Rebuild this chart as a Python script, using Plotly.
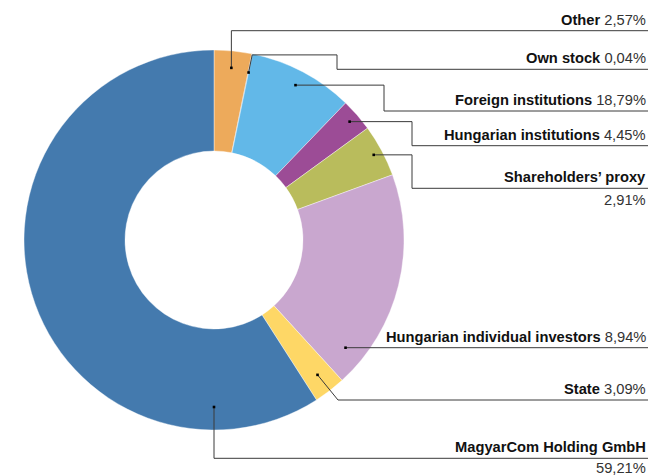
import math
import plotly.graph_objects as go

# ---- data ----
categories = ["Other", "Own stock", "Foreign institutions", "Hungarian institutions",
              "Shareholders’ proxy", "Hungarian individual investors", "State",
              "MagyarCom Holding GmbH"]
label_pct = ["2,57%", "0,04%", "18,79%", "4,45%", "2,91%", "8,94%", "3,09%", "59,21%"]
# slice sizes as drawn (percent of the ring)
slice_share = [3.2, 0.04, 8.94, 2.8, 4.45, 18.8, 2.7, 59.07]
colors = ["#EDAA5B", "#555555", "#62B8E8", "#9C4C96", "#B9BC5C", "#C9A7CF", "#FED766", "#447AAE"]

# ---- layout geometry (pixels) ----
W, H = 651, 476
CX, CY, R, R_IN = 214, 240, 190, 89
TEXT_RIGHT = 648
line_y = [30.7, 69.3, 111, 145.7, 188.3, 347.7, 400, 458.3]
anchor_r = [173, 171, 175, 180, 181, 170, 170, 167]

total = sum(slice_share)
starts, ends = [], []
acc = 0.0
for v in slice_share:
    starts.append(acc / total * 360)
    acc += v
    ends.append(acc / total * 360)


def polar(angle_deg, r):
    a = math.radians(angle_deg)
    return CX + r * math.sin(a), CY - r * math.cos(a)


fig = go.Figure()
fig.add_trace(go.Pie(
    labels=categories, values=slice_share, sort=False, direction="clockwise",
    rotation=0, hole=R_IN / R, textinfo="none", showlegend=False,
    marker=dict(colors=colors, line=dict(color="white", width=0.4)),
    domain=dict(x=[(CX - R) / W, (CX + R) / W], y=[(H - CY - R) / H, (H - CY + R) / H]),
))

# invisible pixel-space axes for leader lines
fig.add_trace(go.Scatter(x=[0, W], y=[0, H], mode="markers", marker=dict(opacity=0),
                         hoverinfo="skip", showlegend=False))

shapes = []
LC = "#3a3a3a"
for i, name in enumerate(categories):
    ly = line_y[i]
    mid = (starts[i] + ends[i]) / 2
    if i == 1:  # own stock: along boundary
        ax, ay = polar(ends[i], anchor_r[i])
        ox, oy = polar(ends[i], 189)
        pts = [(ax, ay), (ox, oy), (337, oy), (337, ly), (TEXT_RIGHT, ly)]
    elif i == 0:
        ax, ay = polar(mid, anchor_r[i])
        pts = [(ax, ay), (ax, ly), (TEXT_RIGHT, ly)]
    elif i in (2, 3, 4):
        ax, ay = polar(mid, anchor_r[i])
        ex = 384 if i == 2 else 412
        pts = [(ax, ay), (ex, ay), (ex, ly), (TEXT_RIGHT, ly)]
    elif i == 5:
        dy = ly - CY
        ax, ay = CX + math.sqrt(anchor_r[i] ** 2 - dy ** 2), ly
        pts = [(ax, ay), (TEXT_RIGHT, ly)]
    elif i == 6:
        ax, ay = polar(mid, anchor_r[i])
        pts = [(ax, ay), (338, ly), (TEXT_RIGHT, ly)]
    else:
        ax, ay = polar(180, anchor_r[i])
        pts = [(ax, ay), (ax, ly), (TEXT_RIGHT, ly)]
    path = "M " + " L ".join(f"{x:.2f},{y:.2f}" for x, y in pts)
    shapes.append(dict(type="path", path=path, xref="x", yref="y",
                       line=dict(color=LC, width=1)))
    shapes.append(dict(type="rect", xref="x", yref="y", x0=ax - 1.3, x1=ax + 1.3,
                       y0=ay - 1.3, y1=ay + 1.3, fillcolor="black", line=dict(width=0)))

FONT = "Liberation Sans, Arial, sans-serif"
FS = 14.7
annotations = []
for i, name in enumerate(categories):
    ty = line_y[i] - 11
    if i == 4 or i == 7:
        txt = f"<b>{name}</b>"
        py = line_y[i] + 12 if i == 4 else H - 8.5
        annotations.append(dict(x=TEXT_RIGHT, y=py, xref="x", yref="y",
                                text=label_pct[i],
                                showarrow=False, xanchor="right", yanchor="middle",
                                font=dict(family=FONT, size=FS, color="#333")))
    else:
        txt = f"<b>{name}</b> <span style='color:#333'>{label_pct[i]}</span>"
    annotations.append(dict(x=TEXT_RIGHT, y=ty, xref="x", yref="y", text=txt,
                            showarrow=False, xanchor="right", yanchor="middle",
                            font=dict(family=FONT, size=FS, color="#111")))

fig.update_layout(
    width=W, height=H, margin=dict(l=0, r=0, t=0, b=0),
    paper_bgcolor="white", plot_bgcolor="rgba(0,0,0,0)",
    xaxis=dict(range=[0, W], visible=False, fixedrange=True),
    yaxis=dict(range=[H, 0], visible=False, fixedrange=True),
    shapes=shapes, annotations=annotations, showlegend=False,
)
fig.write_html("out.html", config={"displayModeBar": False},
               post_script="document.body.style.margin='0';document.body.style.overflow='hidden';")
